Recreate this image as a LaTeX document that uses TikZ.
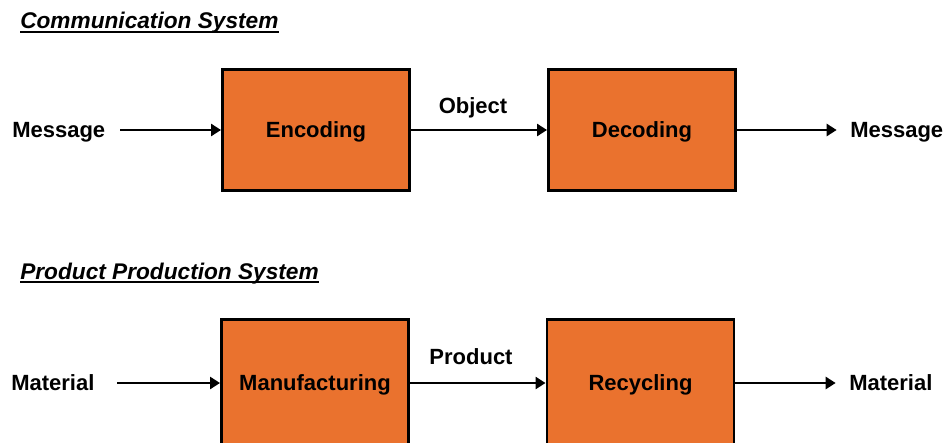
\documentclass[tikz,border=0pt]{standalone}
\usepackage{fontspec}
\setmainfont{Liberation Sans}
\usetikzlibrary{arrows.meta}
\definecolor{boxorange}{RGB}{234,114,46}
\begin{document}
\begin{tikzpicture}[x=0.75pt,y=-0.75pt,
  every node/.style={font=\fontsize{16.5}{19}\selectfont\bfseries, inner sep=0pt},
  stage/.style={draw=black, line width=2.2pt, fill=boxorange,
    minimum width=140.25pt, minimum height=90.75pt, text height=11.8pt, text depth=0pt},
  flowlabel/.style={text height=11.8pt, text depth=0pt},
  heading/.style={font=\fontsize{17}{20}\selectfont\bfseries\itshape, anchor=base west},
  rule/.style={line width=1.3pt},
  flow/.style={line width=1.9pt, -{Triangle[length=7.5pt,width=9pt]}}]
\clip (0,0) rectangle (948,442);

% Communication system
\node[heading] (t1) at (20,29) {Communication System};
\draw[rule] ([yshift=-2pt]t1.base west) -- ([yshift=-2pt]t1.base east);

\node[stage] (enc) at (316,130) {Encoding};
\node[stage] (dec) at (642,130) {Decoding};
\node[flowlabel, anchor=west] (msgin) at (12,130) {Message};
\node[flowlabel, anchor=west] (msgout) at (850,130) {Message};
\node[flowlabel] (obj) at (473,105.5) {Object};

\draw[flow] ([xshift=11pt]msgin.east) -- (enc.west);
\draw[flow] (enc.east) -- (dec.west);
\draw[flow] (dec.east) -- ([xshift=-10pt]msgout.west);

% Product production system (boxes run past the lower edge)
\node[heading] (t2) at (20,279) {Product Production System};
\draw[rule] ([yshift=-2pt]t2.base west) -- ([yshift=-2pt]t2.base east);

\node[stage, minimum height=95.25pt] (man) at (315,383) {Manufacturing};
\node[stage, minimum height=95.25pt] (rec) at (640.5,383) {Recycling};
\node[flowlabel, anchor=west] (matin) at (11,383) {Material};
\node[flowlabel, anchor=west] (matout) at (849,383) {Material};
\node[flowlabel] (prod) at (471,356.5) {Product};

\draw[flow] ([xshift=17pt]matin.east) -- (man.west);
\draw[flow] (man.east) -- (rec.west);
\draw[flow] (rec.east) -- ([xshift=-10pt]matout.west);
\end{tikzpicture}
\end{document}
